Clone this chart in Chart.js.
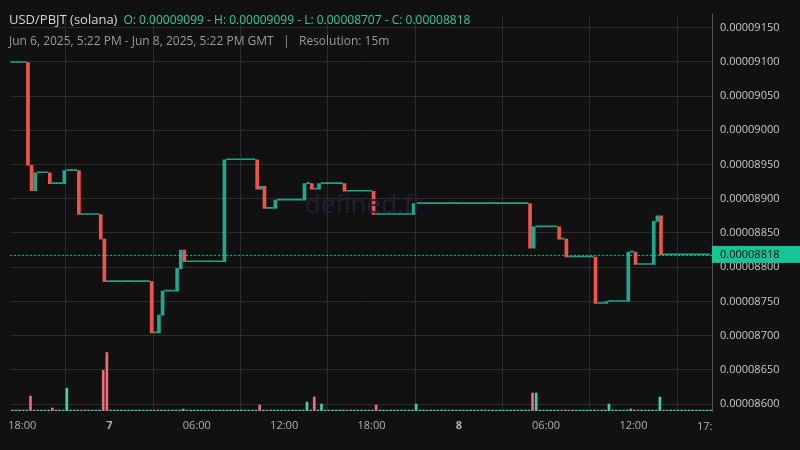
<!DOCTYPE html>
<html lang="en">
<head>
  <meta charset="UTF-8" />
  <title>USD/PBJT</title>
  <script src="https://cdn.jsdelivr.net/npm/chart.js"></script>
  <style>
    html, body { margin: 0; padding: 0; background: #111111; }
    #wrap { width: 800px; height: 450px; }
  </style>
</head>
<body>
  <div id="wrap"><canvas id="chart"></canvas></div>
  <script>
    // prices in units of 1e-8 USD, 15m candles from Jun 6 17:15 (index 0)
    const firstClose = 9099;
    const closeChanges = [
      [5, 8949], [6, 8912], [7, 8938], [11, 8922], [15, 8941], [19, 8877],
      [25, 8841], [26, 8779], [39, 8704], [41, 8730], [42, 8765], [46, 8798],
      [47, 8825], [48, 8808], [59, 8957], [68, 8914], [69, 8918], [70, 8886],
      [73, 8898], [81, 8922], [83, 8914], [85, 8922], [92, 8911], [100, 8877],
      [111, 8893], [143, 8828], [144, 8859], [151, 8841], [153, 8815],
      [161, 8747], [164, 8750], [170, 8822], [172, 8804], [177, 8867],
      [178, 8875], [179, 8818]
    ];
    const candleCount = 193;
    const volumeByIndex = [
      [5, 15], [11, 3], [15, 23], [25, 41], [26, 59], [47, 2], [68, 6],
      [81, 9], [83, 14], [85, 7], [100, 6], [111, 7], [143, 18], [144, 18],
      [164, 7], [170, 2], [178, 14]
    ];
    const tickIndex = [3, 27, 51, 75, 99, 123, 147, 171];
    const tickLabels = ["18:00", "7", "06:00", "12:00", "18:00", "8", "06:00", "12:00"];
    const priceTicks = [8600, 8650, 8700, 8750, 8800, 8850, 8900, 8950, 9000, 9050, 9100, 9150];

    const up = "#1fa88e", down = "#ef5350";
    const volUp = "#3fd0ac", volDown = "#ee6b7c";

    const changeMap = new Map(closeChanges);
    const volMap = new Map(volumeByIndex);
    const candles = [], volumes = [], candleColors = [], volColors = [];
    let prev = firstClose;
    for (let i = 0; i < candleCount; i++) {
      const c = changeMap.has(i) ? changeMap.get(i) : prev;
      candles.push({ x: i, y: [prev, c] });
      candleColors.push(c < prev ? down : up);
      volumes.push({ x: i, y: volMap.has(i) ? volMap.get(i) : 1 });
      volColors.push(c < prev ? volDown : volUp);
      prev = c;
    }
    const lastClose = prev;
    const fmt = v => (v * 1e-8).toFixed(8);

    const overlay = {
      id: "overlay",
      afterDatasetsDraw(chart) {
        const { ctx, chartArea, scales } = chart;
        const y = scales.y.getPixelForValue(lastClose);
        ctx.save();
        ctx.strokeStyle = "#2bbf9c";
        ctx.setLineDash([2, 2]);
        ctx.lineWidth = 1;
        ctx.beginPath();
        ctx.moveTo(chartArea.left, y + 0.5);
        ctx.lineTo(chartArea.right, y + 0.5);
        ctx.stroke();
        ctx.setLineDash([]);
        ctx.fillStyle = "#17c495";
        ctx.fillRect(chartArea.right, y - 9, 800 - chartArea.right, 17);
        ctx.fillStyle = "#0d0d0d";
        ctx.font = "11px 'Open Sans', sans-serif";
        ctx.textBaseline = "middle";
        ctx.fillText(fmt(lastClose), chartArea.right + 8, y);
        // watermark
        ctx.fillStyle = "#221f36";
        ctx.font = "26px 'Open Sans', sans-serif";
        ctx.textAlign = "center";
        ctx.fillText("defined.fi", 362, 206);
        // header
        ctx.textAlign = "left";
        ctx.textBaseline = "alphabetic";
        ctx.font = "13px 'Open Sans', sans-serif";
        ctx.fillStyle = "#d6d6d6";
        const title = "USD/PBJT (solana)";
        ctx.fillText(title, 9, 24);
        const w = ctx.measureText(title).width;
        ctx.font = "12px 'Open Sans', sans-serif";
        ctx.fillStyle = "#35c7a5";
        ctx.fillText("O: 0.00009099 - H: 0.00009099 - L: 0.00008707 - C: 0.00008818", 9 + w + 6, 24);
        ctx.fillStyle = "#9a9a9a";
        ctx.fillText("Jun 6, 2025, 5:22 PM - Jun 8, 2025, 5:22 PM GMT   |   Resolution: 15m", 9, 45);
        ctx.fillStyle = "#b0b0b0";
        ctx.font = "11px 'Open Sans', sans-serif";
        ctx.fillText("17:", 697, 430);
        ctx.restore();
      }
    };

    new Chart(document.getElementById("chart"), {
      type: "bar",
      data: {
        datasets: [
          {
            label: "Volume",
            data: volumes,
            yAxisID: "v",
            backgroundColor: volColors,
            barThickness: 2,
            order: 2
          },
          {
            label: "Price",
            data: candles,
            yAxisID: "y",
            backgroundColor: candleColors,
            barThickness: 3,
            minBarLength: 1,
            order: 1
          }
        ]
      },
      plugins: [overlay],
      options: {
        responsive: true,
        maintainAspectRatio: false,
        animation: false,
        layout: { padding: { left: 10, top: 10, right: 0, bottom: 0 } },
        plugins: { legend: { display: false }, tooltip: { enabled: false } },
        scales: {
          x: {
            type: "linear",
            offset: false,
            min: -0.3,
            max: 192.6,
            grid: { color: "#2c2c2c", drawTicks: false },
            border: { display: false },
            afterBuildTicks(axis) { axis.ticks = tickIndex.map(v => ({ value: v })); },
            afterFit(axis) { axis.height = 39; },
            ticks: {
              autoSkip: false,
              maxRotation: 0,
              padding: 8,
              color: "#b0b0b0",
              font: ctx => ({ family: "'Open Sans', sans-serif", size: 11, weight: (ctx.index === 1 || ctx.index === 5) ? "bold" : "normal" }),
              callback: (v, i) => tickLabels[i]
            }
          },
          y: {
            position: "right",
            min: 8590,
            max: 9169,
            grid: { color: "#2c2c2c", drawTicks: false },
            border: { display: true, color: "#555555" },
            afterBuildTicks(axis) { axis.ticks = priceTicks.map(v => ({ value: v })); },
            afterFit(axis) { axis.width = 88; },
            ticks: {
              padding: 8,
              color: "#c8c8c8",
              font: { family: "'Open Sans', sans-serif", size: 11 },
              callback: v => fmt(v)
            }
          },
          v: { display: false, min: 0, max: 400 }
        }
      }
    });
  </script>
</body>
</html>
